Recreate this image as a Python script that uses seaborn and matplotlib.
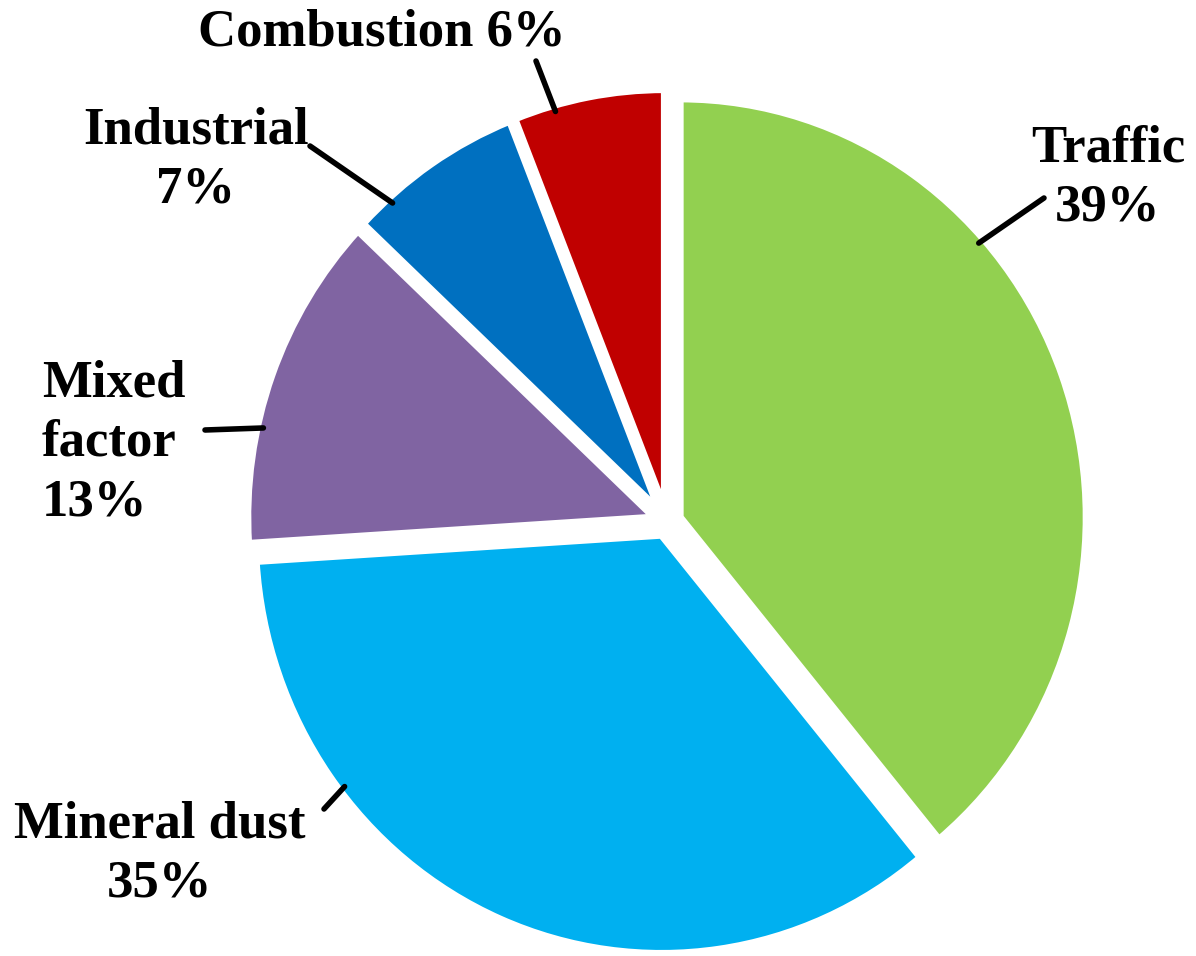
import numpy as np
import matplotlib
matplotlib.use("Agg")
import matplotlib.pyplot as plt
import seaborn as sns

sources = ["Traffic", "Mineral dust", "Mixed factor", "Industrial", "Combustion"]
shares = [39, 35, 13, 7, 6]
labels = ["Traffic\n39%", "Mineral dust\n35%", "Mixed\nfactor\n13%", "Industrial\n7%", "Combustion 6%"]
colors = ["#92D050", "#00B0F0", "#8064A2", "#0070C0", "#C00000"]

sns.set_theme(style="white")
plt.rcParams['font.family'] = ['Liberation Serif', 'DejaVu Serif']
plt.rcParams['font.weight'] = 'bold'

W, H = 1196, 956
S = 1.03  # slight vertical stretch seen in the original

fig = plt.figure(figsize=(W / 100, H / 100), dpi=100)
ax = fig.add_axes([0, 0, 1, 1])

cy = (H - 522) / S
# explode is in data units here (radius = 405)
wedges, _ = ax.pie(shares, colors=colors, startangle=90, counterclock=False,
                   explode=[14] * len(shares), radius=406, center=(667, cy),
                   wedgeprops=dict(edgecolor="white", linewidth=5))
ax.set_xlim(0, W)
ax.set_ylim(0, H / S)
ax.set_aspect("auto")
ax.axis("off")


def fig_frac(x, y):
    return (x / W, 1 - y / H)


# label layout: text anchor (px), alignment, leader angle on wedge, leader outer end (px)
layout = [
    dict(txt=(1108, 178), ha="center", ang=41.7, out=(1044, 198)),
    dict(txt=(160, 854), ha="center", ang=217.6, out=(324, 809)),
    dict(txt=(42, 443), ha="left", ang=167.5, out=(205, 430)),
    dict(txt=(196, 160), ha="center", ang=131.8, out=(310, 146)),
    dict(txt=(382, 32), ha="center", ang=105.8, out=(536, 61)),
]

for w, lab, lay in zip(wedges, labels, layout):
    cx, cyw = w.center
    a = np.deg2rad(lay["ang"])
    inner = (cx + w.r * 0.985 * np.cos(a), cyw + w.r * 0.985 * np.sin(a))
    ax.annotate("", xy=inner, xytext=fig_frac(*lay["out"]), textcoords="figure fraction",
                arrowprops=dict(arrowstyle="-", lw=4, color="black", shrinkA=0, shrinkB=0))
    fig.text(*fig_frac(*lay["txt"]), lab, ha=lay["ha"], va="center", fontsize=38,
             fontweight="bold", linespacing=1.3, color="black")

fig.savefig("out.png", dpi=100, facecolor="white")
